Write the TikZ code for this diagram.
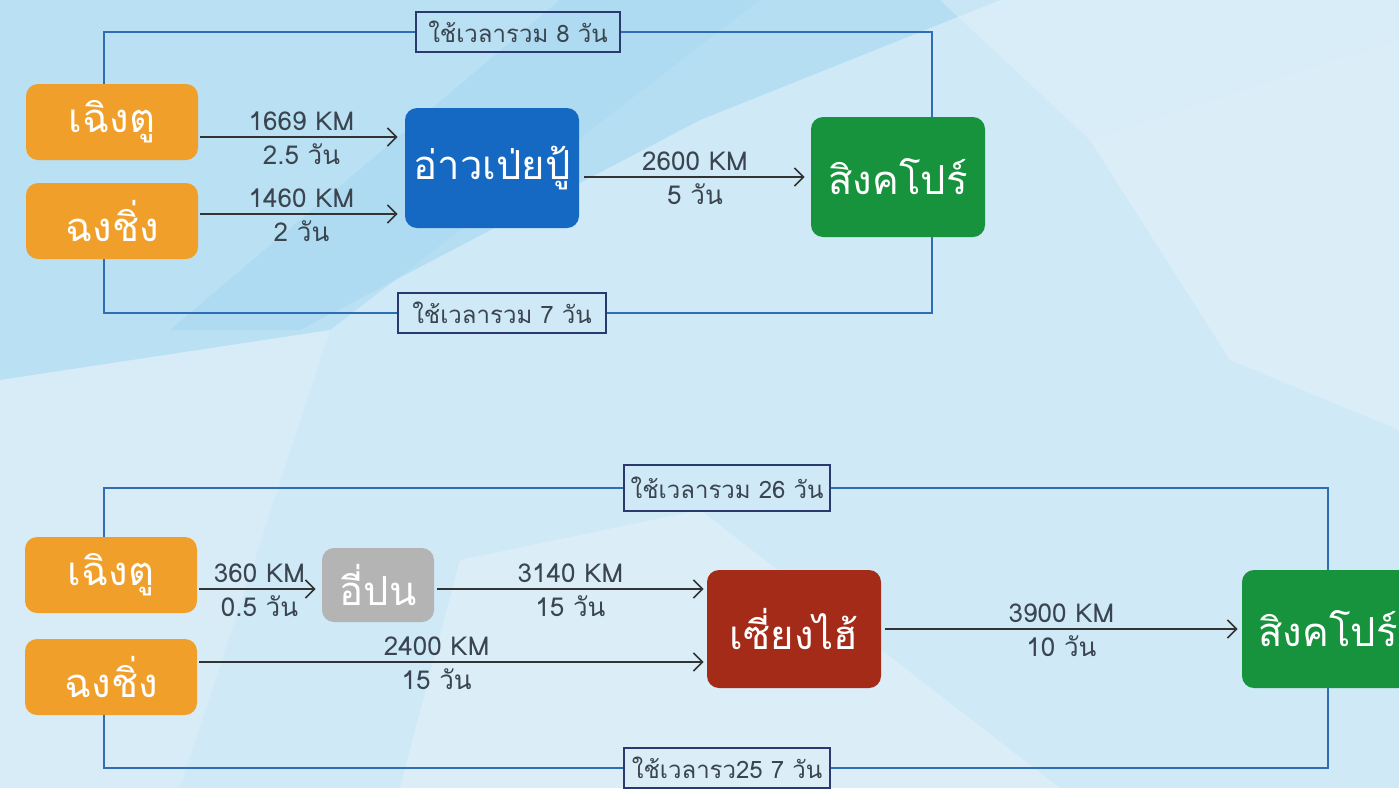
\documentclass[tikz,border=0pt]{standalone}
\usepackage{fontspec}
\setmainfont{Loma}[Script=Thai]
\usetikzlibrary{positioning,arrows.meta,calc}

\definecolor{bgbase}{HTML}{CFE9F6}
\definecolor{bgdeep}{HTML}{A6D8F1}
\definecolor{bglight}{HTML}{EAF5FB}
\definecolor{cityorange}{HTML}{F0A02A}
\definecolor{portblue}{HTML}{1669C2}
\definecolor{sggreen}{HTML}{17933D}
\definecolor{shred}{HTML}{A52B19}
\definecolor{ybgray}{HTML}{B4B4B4}
\definecolor{framecol}{HTML}{2F6DB4}
\definecolor{lblcol}{HTML}{2B3A6E}
\definecolor{txtcol}{HTML}{3A4550}

\tikzset{
  place/.style={rounded corners=6pt, text=white, inner sep=0pt,
    font=\fontsize{20}{24}\selectfont},
  city/.style={place, fill=cityorange, minimum width=86pt, minimum height=38pt},
  hub/.style={place, minimum width=87pt, minimum height=59pt},
  total/.style={draw=lblcol, line width=1pt, text=txtcol, inner sep=0pt,
    minimum height=20pt, font=\fontsize{12}{14}\selectfont},
  frame/.style={draw=framecol, line width=0.8pt},
  route/.style={draw=black!80, line width=0.8pt,
    -{Straight Barb[length=4.5pt,width=9pt,line width=0.8pt]}},
  dist/.style={text=txtcol, inner sep=3pt, font=\fontsize{13}{15}\selectfont},
}

\begin{document}
\begin{tikzpicture}[x=0.5pt,y=-0.5pt]
  \useasboundingbox (0,0) rectangle (1399,788);
  % background
  \fill[bgbase] (0,0) rectangle (1399,788);
  \fill[bgdeep, opacity=0.5] (0,0) -- (760,0) -- (330,330) -- (0,380) -- cycle;
  \fill[bgdeep, opacity=0.6] (560,0) -- (1000,0) -- (700,120) -- (300,330) -- (170,330) -- cycle;
  \fill[bglight, opacity=0.45] (1090,140) -- (1399,40) -- (1399,430) -- (1230,360) -- cycle;
  \fill[bglight, opacity=0.35] (940,0) -- (1399,0) -- (1399,40) -- (1090,140) -- cycle;
  \fill[bglight, opacity=0.45] (460,560) -- (700,510) -- (1060,788) -- (400,788) -- cycle;
  \fill[bglight, opacity=0.3] (0,380) -- (330,330) -- (180,788) -- (0,788) -- cycle;

  % upper route
  \node[city] (cd1) at (112,122) {เฉิงตู};
  \node[city] (cq1) at (112,221) {ฉงชิ่ง};
  \node[hub, fill=portblue, minimum height=60pt] (awp) at (492,168) {อ่าวเป่ยปู้};
  \node[hub, fill=sggreen, minimum height=60pt] (sg1) at (898,177) {สิงคโปร์};
  \node[total, minimum width=102pt] (lblA) at (518,32) {ใช้เวลารวม 8 วัน};
  \node[total, minimum width=104pt] (lblB) at (502,313) {ใช้เวลารวม 7 วัน};

  \draw[frame] (lblA.west) -| ([xshift=-4pt]cd1.north);
  \draw[frame] (lblA.east) -| ([xshift=17pt]sg1.north);
  \draw[frame] (lblB.west) -| ([xshift=-4pt]cq1.south);
  \draw[frame] (lblB.east) -| ([xshift=17pt]sg1.south);

  \draw[route, shorten <=1pt, shorten >=3.5pt] ([yshift=-7.5pt]cd1.east) -- ([yshift=-7.5pt]cd1.east -| awp.west)
    node[dist, above, midway] {1669 KM} node[dist, below, midway] {2.5 วัน};
  \draw[route, shorten <=1pt, shorten >=3.5pt] ([yshift=3.5pt]cq1.east) -- ([yshift=3.5pt]cq1.east -| awp.west)
    node[dist, above, midway] {1460 KM} node[dist, below, midway] {2 วัน};
  \draw[route, shorten <=2.5pt, shorten >=3pt] (awp.east |- sg1.west) -- (sg1.west)
    node[dist, above, midway] {2600 KM} node[dist, below, midway] {5 วัน};

  % lower route
  \node[city] (cd2) at (111,575) {เฉิงตู};
  \node[city] (cq2) at (111,677) {ฉงชิ่ง};
  \node[place, fill=ybgray, minimum width=56pt, minimum height=37pt] (yb) at (378,585) {อี่ปน};
  \node[hub, fill=shred] (sh) at (794,629) {เซี่ยงไฮ้};
  \node[hub, fill=sggreen, minimum width=86pt] (sg2) at (1328,629) {สิงคโปร์};
  \node[total, minimum width=103pt, minimum height=23pt] (lblC) at (727,488) {ใช้เวลารวม 26 วัน};
  \node[total, minimum width=103pt] (lblD) at (727,768) {ใช้เวลารว25 7 วัน};

  \draw[frame] (lblC.west) -| ([xshift=-3.5pt]cd2.north);
  \draw[frame] (lblC.east) -| (sg2.north);
  \draw[frame] (lblD.west) -| ([xshift=-3.5pt]cq2.south);
  \draw[frame] (lblD.east) -| (sg2.south);

  \draw[route, shorten <=1pt, shorten >=3pt] ([yshift=-7pt]cd2.east) -- ([yshift=-7pt]cd2.east -| yb.west)
    node[dist, above, midway] {360 KM} node[dist, below, midway] {0.5 วัน};
  \draw[route, shorten <=1.5pt, shorten >=1.5pt] ([yshift=-2pt]yb.east) -- ([yshift=-2pt]yb.east -| sh.west)
    node[dist, above, midway] {3140 KM} node[dist, below, midway] {15 วัน};
  \draw[route, shorten <=1pt, shorten >=1.5pt] ([yshift=7.5pt]cq2.east) -- ([yshift=7.5pt]cq2.east -| sh.west)
    node[dist, above, pos=0.47] {2400 KM} node[dist, below, pos=0.47] {15 วัน};
  \draw[route, shorten <=2pt, shorten >=2pt] (sh.east) -- (sg2.west)
    node[dist, above, midway] {3900 KM} node[dist, below, midway] {10 วัน};
\end{tikzpicture}
\end{document}
